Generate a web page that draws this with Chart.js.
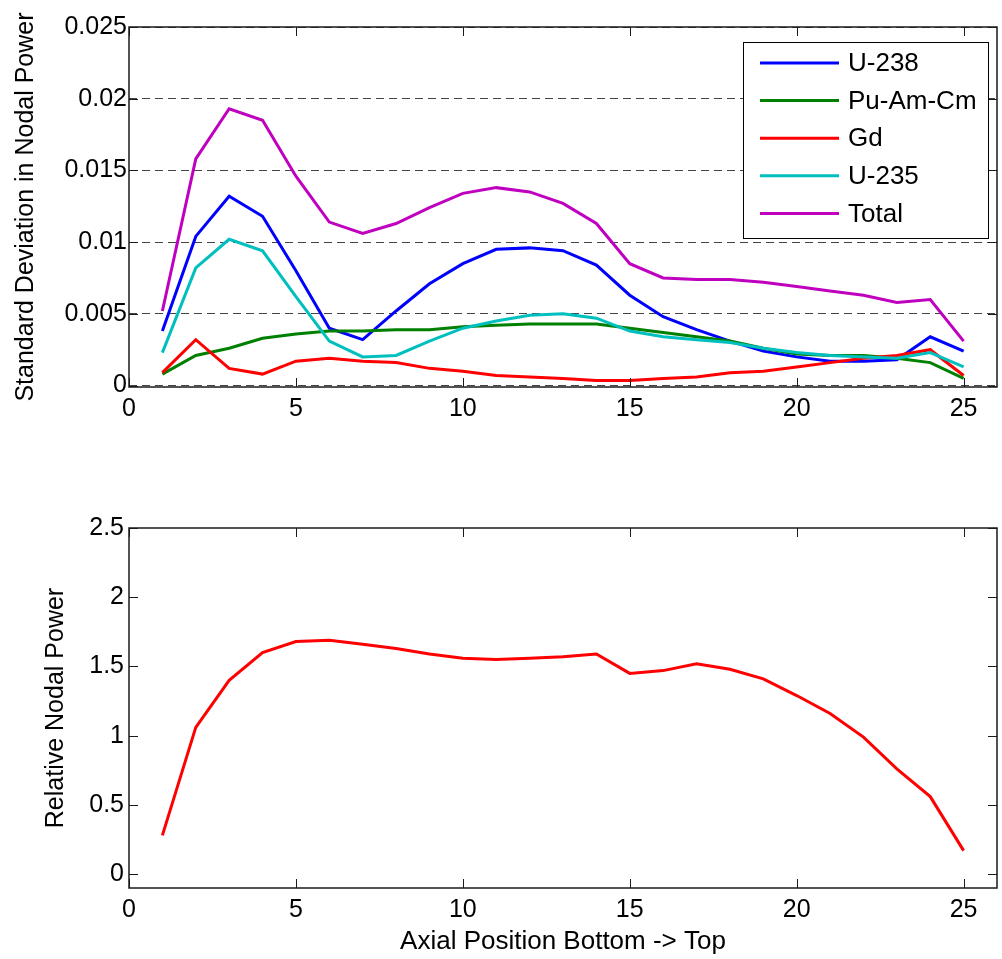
<!DOCTYPE html>
<html>
<head>
<meta charset="utf-8">
<title>Nodal power uncertainty</title>
<script src="https://cdn.jsdelivr.net/npm/chart.js@4.4.1/dist/chart.umd.min.js"></script>
<style>
  html, body { margin: 0; padding: 0; background: #fff; }
  #wrap { position: relative; width: 1002px; height: 959px; }
  #sdChart { position: absolute; left: 0; top: 0; }
  #powerChart { position: absolute; left: 0; top: 440px; }
</style>
</head>
<body>
<div id="wrap">
  <canvas id="sdChart" width="1002" height="440"></canvas>
  <canvas id="powerChart" width="1002" height="519"></canvas>
</div>
<script>
// axial nodes, bottom -> top
var positions = [1, 2, 3, 4, 5, 6, 7, 8, 9, 10, 11, 12, 13, 14, 15, 16, 17, 18, 19, 20, 21, 22, 23, 24, 25];

// standard deviation of nodal power by contributor
var u238 = [0.0038, 0.0104, 0.0132, 0.0118, 0.0080, 0.0040, 0.0032, 0.0052, 0.0071, 0.0085, 0.0095, 0.0096, 0.0094,
            0.0084, 0.0063, 0.0048, 0.0039, 0.0031, 0.0024, 0.0020, 0.0017, 0.0017, 0.0018, 0.0034, 0.0024];
var puAmCm = [0.0008, 0.0021, 0.0026, 0.0033, 0.0036, 0.0038, 0.0038, 0.0039, 0.0039, 0.0041, 0.0042, 0.0043, 0.0043,
              0.0043, 0.0040, 0.0037, 0.0034, 0.0031, 0.0026, 0.0022, 0.0021, 0.0021, 0.0019, 0.0016, 0.0005];
var gd = [0.0009, 0.0032, 0.0012, 0.0008, 0.0017, 0.0019, 0.0017, 0.0016, 0.0012, 0.0010, 0.0007, 0.0006, 0.0005,
          0.00035, 0.00035, 0.0005, 0.0006, 0.0009, 0.0010, 0.0013, 0.0016, 0.0019, 0.0021, 0.0025, 0.0007];
var u235 = [0.0023, 0.0082, 0.0102, 0.0094, 0.0062, 0.0031, 0.0020, 0.0021, 0.0031, 0.0040, 0.0045, 0.0049, 0.0050,
            0.0047, 0.0038, 0.0034, 0.0032, 0.0030, 0.0026, 0.0023, 0.0021, 0.0020, 0.0019, 0.0023, 0.0013];
var total = [0.0052, 0.0158, 0.0193, 0.0185, 0.0146, 0.0114, 0.0106, 0.0113, 0.0124, 0.0134, 0.0138, 0.0135, 0.0127,
             0.0113, 0.0085, 0.0075, 0.0074, 0.0074, 0.0072, 0.0069, 0.0066, 0.0063, 0.0058, 0.0060, 0.0031];

// relative nodal power
var relPower = [0.28, 1.06, 1.40, 1.60, 1.68, 1.69, 1.66, 1.63, 1.59, 1.56, 1.55, 1.56, 1.57,
                1.59, 1.45, 1.47, 1.52, 1.48, 1.41, 1.29, 1.16, 0.99, 0.76, 0.56, 0.17];

var seriesNames = ['U-238', 'Pu-Am-Cm', 'Gd', 'U-235', 'Total'];

var xTicks = [0, 5, 10, 15, 20, 25];
var xTickLabels = ['0', '5', '10', '15', '20', '25'];
var sdTicks = [0, 0.005, 0.01, 0.015, 0.02, 0.025];
var sdTickLabels = ['0', '0.005', '0.01', '0.015', '0.02', '0.025'];
var powerTicks = [0, 0.5, 1, 1.5, 2, 2.5];
var powerTickLabels = ['0', '0.5', '1', '1.5', '2', '2.5'];

Chart.defaults.font.family = "'Liberation Sans', Arial, sans-serif";
Chart.defaults.color = '#000';

function toPoints(values) {
  return positions.map(function(p, i) { return { x: p, y: values[i] }; });
}

// builds a linear axis whose ticks are exactly the given values
function fixedAxis(values, labels, extra) {
  var axis = {
    type: 'linear',
    afterBuildTicks: function(scale) {
      scale.ticks = values.map(function(v) { return { value: v }; });
    }
  };
  Object.assign(axis, extra);
  axis.ticks = Object.assign({ font: { size: 25 }, autoSkip: false, maxRotation: 0 }, extra.ticks, {
    callback: function(v) { return labels[values.indexOf(v)]; }
  });
  return axis;
}

// black box around the plot with inward tick marks on all four sides
var boxPlugin = {
  id: 'box',
  afterDatasetsDraw: function(chart) {
    var ctx = chart.ctx, a = chart.chartArea, x = chart.scales.x, y = chart.scales.y;
    ctx.save();
    ctx.strokeStyle = '#1a1a1a';
    ctx.lineWidth = 1;
    ctx.beginPath();
    x.ticks.forEach(function(t) {
      var px = Math.round(x.getPixelForValue(t.value)) + 0.5;
      ctx.moveTo(px, a.bottom); ctx.lineTo(px, a.bottom - 9);
      ctx.moveTo(px, a.top); ctx.lineTo(px, a.top + 9);
    });
    y.ticks.forEach(function(t) {
      var py = Math.round(y.getPixelForValue(t.value)) + 0.5;
      ctx.moveTo(a.left, py); ctx.lineTo(a.left + 9, py);
      ctx.moveTo(a.right, py); ctx.lineTo(a.right - 9, py);
    });
    ctx.stroke();
    ctx.lineWidth = 1.5;
    ctx.strokeRect(a.left, a.top, a.right - a.left, a.bottom - a.top);
    ctx.restore();
  }
};

// boxed legend in the upper right corner
var boxLegend = {
  id: 'boxLegend',
  afterDraw: function(chart) {
    var ctx = chart.ctx;
    var bx = 743, by = 42, bw = 245, bh = 196;
    ctx.save();
    ctx.fillStyle = '#fff';
    ctx.fillRect(bx, by, bw, bh);
    ctx.strokeStyle = '#000';
    ctx.lineWidth = 1;
    ctx.strokeRect(bx + 0.5, by + 0.5, bw, bh);
    ctx.font = "26px 'Liberation Sans', Arial, sans-serif";
    ctx.textBaseline = 'middle';
    ctx.fillStyle = '#000';
    chart.data.datasets.forEach(function(ds, i) {
      var ry = by + 21 + i * 37.6;
      ctx.strokeStyle = ds.borderColor;
      ctx.lineWidth = 3;
      ctx.beginPath();
      ctx.moveTo(760, ry);
      ctx.lineTo(839, ry);
      ctx.stroke();
      ctx.fillText(ds.label, 848, ry + 1);
    });
    ctx.restore();
  }
};

function lineSet(label, values, color, order) {
  return {
    label: label,
    data: toPoints(values),
    borderColor: color,
    backgroundColor: color,
    borderWidth: 3,
    pointRadius: 0,
    tension: 0,
    order: order
  };
}

function xAxis(height, title) {
  return fixedAxis(xTicks, xTickLabels, {
    min: 0,
    max: 26,
    grid: { display: false, drawTicks: false },
    border: { display: false },
    ticks: { padding: 7 },
    title: title,
    afterFit: function(scale) { scale.height = height; }
  });
}

new Chart(document.getElementById('sdChart'), {
  type: 'line',
  data: {
    datasets: [
      lineSet(seriesNames[0], u238, '#0000ff', 5),
      lineSet(seriesNames[1], puAmCm, '#008000', 4),
      lineSet(seriesNames[2], gd, '#ff0000', 3),
      lineSet(seriesNames[3], u235, '#00bfbf', 2),
      lineSet(seriesNames[4], total, '#bf00bf', 1)
    ]
  },
  options: {
    responsive: false,
    animation: false,
    layout: { padding: { top: 27, right: 5, left: 0, bottom: 0 } },
    plugins: { legend: { display: false }, tooltip: { enabled: false } },
    scales: {
      x: xAxis(53, { display: false }),
      y: fixedAxis(sdTicks, sdTickLabels, {
        min: -0.0001,
        max: 0.025,
        grid: { color: '#444', lineWidth: 1, drawTicks: false },
        border: { display: false, dash: [8, 5] },
        ticks: { padding: 2 },
        title: { display: true, text: 'Standard Deviation in Nodal Power', font: { size: 25 }, padding: { top: 11, bottom: 0 } },
        afterFit: function(scale) { scale.width = 129; }
      })
    }
  },
  plugins: [boxPlugin, boxLegend]
});

new Chart(document.getElementById('powerChart'), {
  type: 'line',
  data: {
    datasets: [lineSet('Relative Nodal Power', relPower, '#ff0000', 1)]
  },
  options: {
    responsive: false,
    animation: false,
    layout: { padding: { top: 88, right: 5, left: 0, bottom: 0 } },
    plugins: { legend: { display: false }, tooltip: { enabled: false } },
    scales: {
      x: xAxis(71, { display: true, text: 'Axial Position Bottom -> Top', font: { size: 26 }, padding: { top: 0, bottom: 2 } }),
      y: fixedAxis(powerTicks, powerTickLabels, {
        min: -0.1,
        max: 2.5,
        grid: { display: false, drawTicks: false },
        border: { display: false },
        ticks: { padding: 5 },
        title: { display: true, text: 'Relative Nodal Power', font: { size: 25 }, padding: { top: 41, bottom: 0 } },
        afterFit: function(scale) { scale.width = 129; }
      })
    }
  },
  plugins: [boxPlugin]
});
</script>
</body>
</html>
